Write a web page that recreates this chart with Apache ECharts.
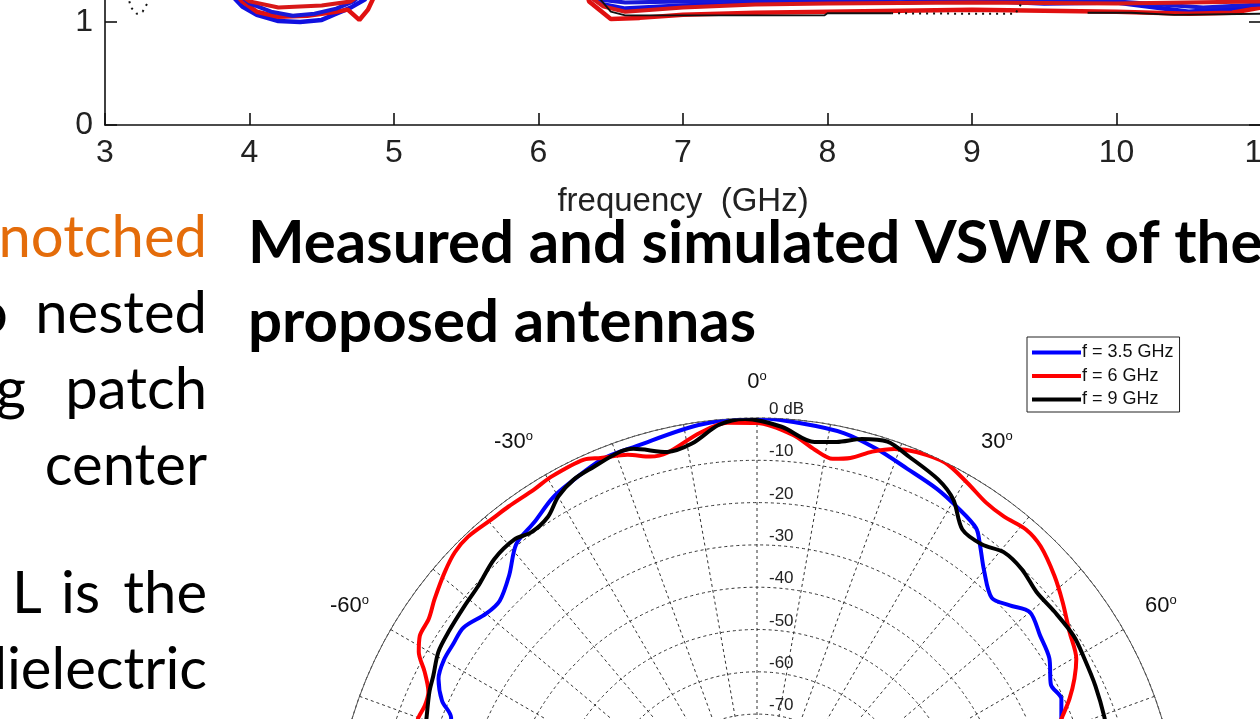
<!DOCTYPE html>
<html>
<head>
<meta charset="utf-8">
<script src="https://cdn.jsdelivr.net/npm/echarts@6/dist/echarts.min.js"></script>
<style>
  html, body { margin: 0; padding: 0; background: #fff; overflow: hidden; }
  #main { width: 1260px; height: 719px; }
</style>
</head>
<body>
<div id="main"></div>
<script>
// ---- VSWR sweep (frequency in GHz, VSWR) ----
const freqTicks = [3, 4, 5, 6, 7, 8, 9, 10, 11];
const vswrTicks = [0, 1];

const blueAFreq = [3.0, 3.5, 3.85, 3.95, 4.05, 4.2, 4.35, 4.5, 4.6, 4.7, 4.8, 4.9, 5.5, 6.2, 6.35, 6.45, 6.6, 7.0, 7.5, 8.0, 8.5, 9.0, 9.5, 10.0, 10.5, 11.0];
const blueAVswr = [3.2, 2.0, 1.3, 1.15, 1.07, 1.01, 1.0, 1.02, 1.08, 1.14, 1.22, 1.6, 4.0, 1.8, 1.25, 1.17, 1.13, 1.16, 1.18, 1.2, 1.19, 1.21, 1.18, 1.19, 1.1, 1.15];
const blueBFreq = [3.0, 3.5, 3.9, 4.0, 4.15, 4.3, 4.45, 4.6, 4.72, 4.8, 5.5, 6.2, 6.4, 6.6, 7.0, 8.0, 9.0, 10.0, 10.6, 11.0];
const blueBVswr = [3.0, 2.1, 1.3, 1.18, 1.1, 1.06, 1.08, 1.13, 1.2, 1.3, 3.6, 1.9, 1.22, 1.19, 1.2, 1.22, 1.23, 1.2, 1.14, 1.17];
const redAFreq = [3.0, 3.5, 3.85, 3.95, 4.05, 4.2, 4.4, 4.6, 4.68, 4.76, 4.82, 4.88, 5.5, 6.2, 6.35, 6.5, 6.7, 7.0, 7.5, 8.0, 8.5, 9.0, 9.5, 10.0, 10.5, 10.8, 11.0];
const redAVswr = [3.4, 2.2, 1.35, 1.2, 1.1, 1.05, 1.06, 1.1, 1.12, 1.02, 1.12, 1.3, 4.4, 2.0, 1.2, 1.03, 1.04, 1.07, 1.09, 1.1, 1.11, 1.12, 1.11, 1.1, 1.08, 1.09, 1.14];
const redBFreq = [3.0, 3.5, 3.9, 4.0, 4.2, 4.5, 4.7, 4.8, 5.5, 6.2, 6.3, 6.45, 6.6, 7.0, 7.5, 8.0, 9.0, 10.0, 11.0];
const redBVswr = [3.1, 2.0, 1.3, 1.2, 1.14, 1.16, 1.2, 1.3, 3.8, 1.9, 1.3, 1.15, 1.1, 1.14, 1.17, 1.18, 1.19, 1.18, 1.2];
const blackFreq = [6.2, 6.5, 6.6, 7.98, 8.0, 8.44, 8.45, 9.75, 9.8, 10.1, 10.4, 11.0];
const blackVswr = [1.6, 1.1, 1.065, 1.065, 1.085, 1.085, null, null, 1.09, 1.09, 1.07, 1.08];
const dottedFreq = [3.0, 3.12, 3.18, 3.22, 3.26, 3.3, 3.4, 3.41, 8.4, 8.44, 9.0, 9.3, 9.35];
const dottedVswr = [2.4, 1.45, 1.14, 1.08, 1.1, 1.2, 1.6, null, null, 1.085, 1.08, 1.08, 1.2];

// ---- Far-field patterns (angle in degrees, 0 = broadside, gain in dB) ----
const angles35 = [-72, -68, -66, -63, -60, -57, -54, -50, -47, -43, -39, -35, -31, -28, -22, -17, -8, 0, 6, 12, 17, 22, 27, 31, 35, 37, 40, 44, 47, 50, 54, 58, 62, 65, 68, 72];
const gain35   = [-24, -22, -18.5, -15.5, -14.5, -14.4, -14.2, -16.4, -16.8, -14.1, -9.6, -8.1, -5.7, -4.6, -2.6, -2.4, -0.7, 0, -0.7, -1.4, -3.1, -5.1, -6.5, -8, -9.7, -12.4, -16.5, -20.1, -18.3, -15.8, -17.3, -18.5, -21.3, -20.6, -22.4, -24];

const angles6 = [-72, -70, -67.8, -65.6, -63, -60.8, -58.7, -55.9, -53.1, -49.3, -46.3, -43.5, -39.6, -36.6, -32.4, -29.5, -24.4, -22.2, -18.5, -15.5, -13, -8, -4, 0, 5, 8.4, 11.2, 13.7, 16.5, 19.3, 22.3, 26.4, 30.4, 34.1, 37.3, 40.8, 43.9, 48.3, 52, 56.2, 60.3, 62.9, 65.5, 67.8, 71];
const gain6   = [-15, -14.8, -15.2, -14.7, -11.8, -8.4, -6.7, -6.3, -4.7, -2.6, -1.2, -0.8, -1.4, -1.5, -1.6, -1.1, -1.0, -2.2, -3.7, -5.7, -5.8, -2.6, -0.9, -1.2, -3.6, -6.5, -7.9, -6.8, -4, -1.8, -0.6, -0.1, -1.8, -3.4, -3.6, -2.7, -3.3, -5.8, -8.3, -11.1, -13.1, -15.7, -18.8, -22, -26];

const angles9 = [-72, -69.5, -65.5, -63, -59.3, -55.9, -51.2, -47.6, -43, -38.8, -36.2, -32.8, -30, -26.9, -23.6, -19.7, -17.5, -13, -9.3, -5.2, -1.6, 3.4, 8.2, 11.3, 14.6, 18.1, 21.6, 26.6, 29.9, 33.4, 37.2, 40.5, 44.3, 48.3, 52.4, 57.1, 60.9, 65.4, 70.3, 73];
const gain9   = [-17.5, -16.6, -14.9, -14.1, -12.4, -11.9, -11.3, -10.7, -8.9, -8.5, -9.6, -8.8, -6, -4.2, -3.5, -2.5, -2.8, -5.6, -4.8, -1.2, -0.2, -1.9, -4.7, -3.8, -1.8, -0.7, -2.3, -4.4, -6.9, -11.8, -12, -10.2, -10.3, -11.5, -11.2, -10.8, -11.4, -12, -12.8, -13.5];

const patternNames = ['f = 3.5 GHz', 'f = 6 GHz', 'f = 9 GHz'];
const dbTicks = [0, -10, -20, -30, -40, -50, -60, -70];

const pairs = (xs, ys) => xs.map((x, i) => [x, ys[i]]);
const polarPairs = (angles, gains) => angles.map((a, i) => [gains[i], a < 0 ? a + 360 : a]);

const MATLAB_FONT = 'Liberation Sans';
const SLIDE_FONT = 'Lato';
// only the lower strip of the VSWR axes is in view: 103 px per VSWR unit, 125 px tall
const VSWR_TOP = 125 / 103;

const vswrLine = (name, xs, ys, color, width, type) => ({
  name, type: 'line', xAxisIndex: 0, yAxisIndex: 0,
  data: pairs(xs, ys), symbol: 'none', smooth: false, connectNulls: false, clip: true,
  lineStyle: { color, width, type: type || 'solid' }, z: 3
});

const patternLine = (name, angles, gains, color) => ({
  name, type: 'line', coordinateSystem: 'polar', polarIndex: 0,
  data: polarPairs(angles, gains), symbol: 'none', smooth: 0.3,
  lineStyle: { color, width: 4 }, itemStyle: { color }, z: 5
});

const slideText = (x, y, text, align, color) => ({
  type: 'text', x, y,
  style: { text, font: '58px ' + SLIDE_FONT, fill: color || '#000', textAlign: align || 'left', textVerticalAlign: 'middle' }
});

const chart = echarts.init(document.getElementById('main'), null, { renderer: 'canvas' });

chart.setOption({
  backgroundColor: '#fff',
  animation: false,
  grid: { left: 105, top: 0, width: 1156, height: 125, containLabel: false, outerBoundsMode: 'none' },
  xAxis: [{
    type: 'value', min: 3, max: 11, interval: 1, position: 'bottom',
    axisLine: { lineStyle: { color: '#111', width: 1.6 } },
    axisTick: { inside: true, length: 12, lineStyle: { color: '#111', width: 1.6 } },
    axisLabel: { fontFamily: MATLAB_FONT, fontSize: 32, color: '#222', margin: 12,
      formatter: v => freqTicks.includes(v) ? String(v) : '' },
    splitLine: { show: false },
    name: 'frequency  (GHz)', nameLocation: 'middle', nameGap: 60,
    nameTextStyle: { fontFamily: MATLAB_FONT, fontSize: 33, color: '#222' }
  }],
  yAxis: [{
    type: 'value', min: 0, max: VSWR_TOP, interval: 1, position: 'left',
    axisLine: { show: true, lineStyle: { color: '#111', width: 1.6 } },
    axisTick: { show: true, inside: true, length: 12, lineStyle: { color: '#111', width: 1.6 } },
    axisLabel: { fontFamily: MATLAB_FONT, fontSize: 32, color: '#222', margin: 12,
      showMaxLabel: false, formatter: v => vswrTicks.includes(v) ? String(v) : '' },
    splitLine: { show: false }
  }, {
    type: 'value', min: 0, max: VSWR_TOP, interval: 1, position: 'right',
    axisLine: { show: true, lineStyle: { color: '#111', width: 1.6 } },
    axisTick: { show: true, inside: true, length: 12, lineStyle: { color: '#111', width: 1.6 } },
    axisLabel: { show: false }, splitLine: { show: false }
  }],
  polar: { center: [757, 841], radius: 423 },
  angleAxis: {
    type: 'value', min: 0, max: 360, interval: 10, startAngle: 90, clockwise: true,
    axisLine: { show: true, lineStyle: { color: '#555', width: 1 } },
    axisTick: { show: false },
    axisLabel: {
      margin: 25, align: 'center', verticalAlign: 'middle',
      formatter: v => {
        if (v % 30 !== 0 || v === 360) return '';
        const a = v > 180 ? v - 360 : v;
        return '{n|' + a + '}{d|o}';
      },
      rich: {
        n: { fontFamily: MATLAB_FONT, fontSize: 22, color: '#111' },
        d: { fontFamily: MATLAB_FONT, fontSize: 13, color: '#111', verticalAlign: 'top', padding: [0, 0, 10, 0] }
      }
    },
    splitLine: { show: true, lineStyle: { color: '#333', width: 1, type: [3, 3] } }
  },
  radiusAxis: {
    type: 'value', min: -100, max: 0, interval: 10,
    axisLine: { show: false }, axisTick: { show: false },
    axisLabel: {
      fontFamily: MATLAB_FONT, fontSize: 17, color: '#222', margin: -12, align: 'left', verticalAlign: 'bottom',
      formatter: v => v === 0 ? '0 dB' : (dbTicks.includes(v) ? String(v) : '')
    },
    splitLine: { show: true, lineStyle: { color: '#333', width: 1, type: [3, 3] } }
  },
  legend: {
    data: patternNames, orient: 'vertical', left: 1027, top: 337,
    backgroundColor: '#fff', borderColor: '#222', borderWidth: 1, borderRadius: 0,
    padding: [6, 6, 3, 5], itemGap: 4.5, itemWidth: 49, itemHeight: 4, icon: 'rect',
    textStyle: { fontFamily: MATLAB_FONT, fontSize: 18, lineHeight: 19, color: '#111', padding: [0, 0, 0, -4] }
  },
  graphic: [
    { type: 'text', x: 248, y: 244, style: { text: 'Measured and simulated VSWR of the', font: 'bold 60px ' + SLIDE_FONT, fill: '#000', textVerticalAlign: 'middle' } },
    { type: 'text', x: 248, y: 323, style: { text: 'proposed antennas', font: 'bold 60px ' + SLIDE_FONT, fill: '#000', textVerticalAlign: 'middle' } },
    slideText(207, 238, 'notched', 'right', '#E46C0A'),
    slideText(8, 314, 'two', 'right'),
    slideText(207, 314, 'nested', 'right'),
    slideText(26, 390, 'using', 'right'),
    slideText(207, 390, 'patch', 'right'),
    slideText(207, 466, 'center', 'right'),
    slideText(12, 594, 'L', 'left'),
    slideText(61, 594, 'is', 'left'),
    slideText(207, 594, 'the', 'right'),
    slideText(207, 670, 'dielectric', 'right')
  ],
  series: [
    vswrLine('VSWR ant. A (meas.)', blueAFreq, blueAVswr, '#1010e0', 4.5),
    vswrLine('VSWR ant. B (meas.)', redAFreq, redAVswr, '#e01010', 4.5),
    vswrLine('VSWR ant. A (sim.)', blueBFreq, blueBVswr, '#1818d8', 4),
    vswrLine('VSWR ant. B (sim.)', redBFreq, redBVswr, '#d81818', 4),
    vswrLine('VSWR reference', blackFreq, blackVswr, '#111', 1.8),
    vswrLine('VSWR reference (dotted)', dottedFreq, dottedVswr, '#111', 2, [2, 5]),
    patternLine(patternNames[0], angles35, gain35, '#0000ff'),
    patternLine(patternNames[1], angles6, gain6, '#ff0000'),
    patternLine(patternNames[2], angles9, gain9, '#000000')
  ]
});
</script>
</body>
</html>
